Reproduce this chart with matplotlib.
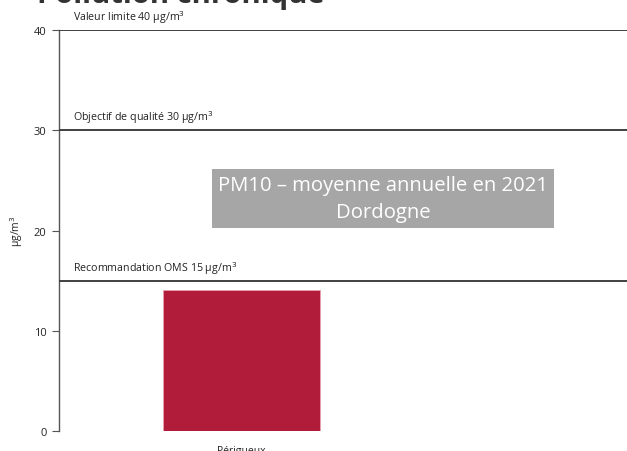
import matplotlib.pyplot as plt

# PM10 annual mean, Dordogne 2021
stations = ["Périgueux"]
pm10_mean = [14.1]

# regulatory thresholds (µg/m³)
threshold_values = [40, 30, 15]
threshold_labels = ["Valeur limite 40 µg/m$^3$",
                    "Objectif de qualité 30 µg/m$^3$",
                    "Recommandation OMS 15 µg/m$^3$"]
y_ticks = [0, 10, 20, 30, 40]

BAR_COLOR = "#b01c3a"
LINE_COLOR = "#404040"
GREY = "#555555"

plt.rcParams["font.family"] = ["Open Sans", "DejaVu Sans"]

fig = plt.figure(figsize=(6.27, 4.52), dpi=100, facecolor="white")
ax = fig.add_axes([0.0941, 0.0442, 0.9059, 0.8872])

ax.bar(range(len(stations)), pm10_mean, width=0.6, color=BAR_COLOR,
       edgecolor="#e8a0b0", linewidth=0.6, zorder=2)

for val, lab in zip(threshold_values, threshold_labels):
    ax.axhline(val, color=LINE_COLOR, linewidth=1.4, zorder=3)
    ax.text(-0.645, val + 0.5, lab, fontsize=7.7, color="#222222",
            ha="left", va="bottom")

ax.set_xlim(-0.697, 1.473)
ax.set_ylim(0, 40)
ax.set_yticks(y_ticks)
ax.set_yticklabels([str(t) for t in y_ticks], fontsize=8, color="#222222")
ax.set_xticks(range(len(stations)))
ax.set_xticklabels(stations, fontsize=7.5, color="#222222")
ax.tick_params(axis="x", length=0, pad=10)
ax.tick_params(axis="y", length=5, color=GREY, width=0.8, pad=4)

for side in ("top", "right", "bottom"):
    ax.spines[side].set_visible(False)
ax.spines["left"].set_color(GREY)
ax.spines["left"].set_linewidth(1.0)

ax.set_ylabel("µg/m$^3$", fontsize=7.5, color="#222222", labelpad=6)

# caption box in the middle of the plot area
fig.text(0.611, 0.5586, "PM10 – moyenne annuelle en 2021\nDordogne",
         ha="center", va="center", fontsize=14.6, color="white",
         linespacing=1.45,
         bbox=dict(boxstyle="square,pad=0.3", facecolor="#a6a6a6",
                   edgecolor="none"))

fig.text(0.059, 0.993, "Pollution chronique", fontsize=21, fontweight="bold",
         color="#333333", ha="left", va="baseline")

fig.savefig("out.png", dpi=100, facecolor="white")
